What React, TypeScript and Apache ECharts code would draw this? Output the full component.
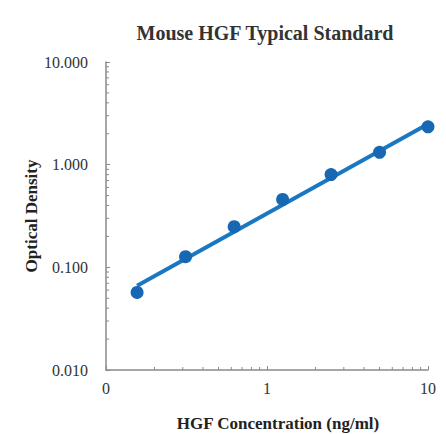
import React, { useEffect, useRef } from "react";
import * as echarts from "echarts";

const concentrations = [0.156, 0.312, 0.625, 1.25, 2.5, 5, 10];
const opticalDensity = [0.057, 0.127, 0.249, 0.459, 0.8, 1.318, 2.34];
const fitConc = [0.156, 10];
const fitOD = [0.066, 2.49];
const yMinorTicks = [0.02, 0.03, 0.04, 0.05, 0.06, 0.07, 0.08, 0.09, 0.2, 0.3, 0.4, 0.5, 0.6, 0.7, 0.8, 0.9, 2, 3, 4, 5, 6, 7, 8, 9];
const xMinorTicks = [0.2, 0.3, 0.4, 0.5, 0.6, 0.7, 0.8, 0.9, 2, 3, 4, 5, 6, 7, 8, 9];
const xMin = 0.1, xMax = 10, yMin = 0.01, yMax = 10;

const FONT = "Liberation Serif";
const AXIS_COLOR = "#8a8a8a";

export default function App() {
  const ref = useRef<HTMLDivElement>(null);
  useEffect(() => {
    if (!ref.current) return;
    const chart = echarts.init(ref.current, null, { renderer: "svg" });
    chart.setOption({
      animation: false,
      backgroundColor: "#ffffff",
      title: {
        text: "Mouse HGF Typical Standard",
        left: 260,
        textAlign: "center",
        top: 18,
        textStyle: { fontFamily: FONT, fontWeight: "bold", fontSize: 20, color: "#333" },
      },
      grid: { left: 106, right: 18, top: 62, bottom: 64, outerBoundsMode: "none", containLabel: false },
      xAxis: {
        type: "log",
        logBase: 10,
        min: xMin,
        max: xMax,
        name: "HGF Concentration (ng/ml)",
        nameLocation: "middle",
        nameGap: 45,
        nameMoveOverlap: false,
        nameTextStyle: { fontFamily: FONT, fontWeight: "bold", fontSize: 17, color: "#222", padding: [0, 0, 0, 22] },
        axisLine: { lineStyle: { color: AXIS_COLOR, width: 1.5 } },
        axisTick: { inside: true, length: 4, lineStyle: { color: AXIS_COLOR } },
        splitLine: { show: false },
        axisLabel: {
          fontFamily: FONT,
          fontSize: 16,
          color: "#333",
          margin: 10,
          formatter: (v: number) => (v < 1 ? "0" : String(Math.round(v))),
        },
      },
      yAxis: {
        type: "log",
        logBase: 10,
        min: yMin,
        max: yMax,
        name: "Optical Density",
        nameLocation: "middle",
        nameGap: 66,
        nameMoveOverlap: false,
        nameTextStyle: { fontFamily: FONT, fontWeight: "bold", fontSize: 17, color: "#222" },
        axisLine: { lineStyle: { color: AXIS_COLOR, width: 1.5 } },
        axisTick: { inside: true, length: 4, lineStyle: { color: AXIS_COLOR } },
        splitLine: { show: false },
        axisLabel: {
          fontFamily: FONT,
          fontSize: 16,
          color: "#333",
          margin: 18,
          formatter: (v: number) => v.toFixed(3),
        },
      },
      series: [
        {
          type: "custom",
          silent: true,
          clip: false,
          data: yMinorTicks.map((v) => [xMin, v]),
          renderItem: (params: any, api: any) => {
            const p = api.coord([api.value(0), api.value(1)]);
            return {
              type: "line",
              shape: { x1: p[0], y1: p[1], x2: p[0] + 3, y2: p[1] },
              style: { stroke: AXIS_COLOR, lineWidth: 1 },
            };
          },
          z: 1,
        },
        {
          type: "custom",
          silent: true,
          clip: false,
          data: xMinorTicks.map((v) => [v, yMin]),
          renderItem: (params: any, api: any) => {
            const p = api.coord([api.value(0), api.value(1)]);
            return {
              type: "line",
              shape: { x1: p[0], y1: p[1], x2: p[0], y2: p[1] - 3 },
              style: { stroke: AXIS_COLOR, lineWidth: 1 },
            };
          },
          z: 1,
        },
        {
          type: "line",
          data: fitConc.map((c, i) => [c, fitOD[i]]),
          symbol: "none",
          lineStyle: { color: "#1a78c2", width: 4 },
          z: 2,
        },
        {
          type: "scatter",
          data: concentrations.map((c, i) => [c, opticalDensity[i]]),
          symbolSize: 13,
          itemStyle: { color: "#1767b3", opacity: 1 },
          z: 3,
        },
      ],
    });
    return () => chart.dispose();
  }, []);
  return <div ref={ref} style={{ width: 446, height: 434, position: "absolute", left: 0, top: 0 }} />;
}
